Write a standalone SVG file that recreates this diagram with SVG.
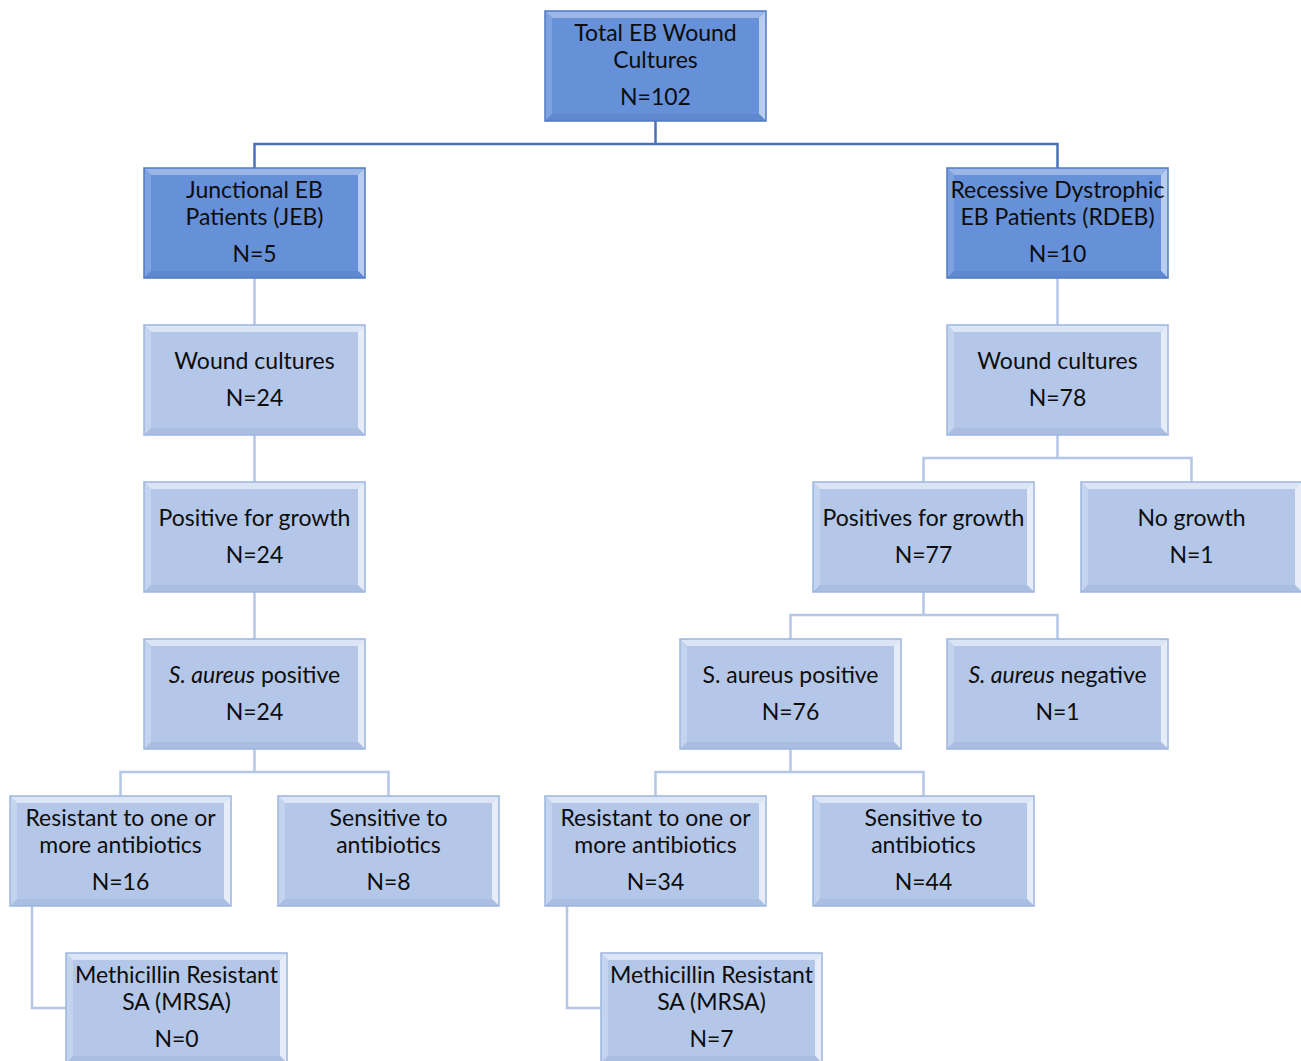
<svg xmlns="http://www.w3.org/2000/svg" xmlns:xlink="http://www.w3.org/1999/xlink" width="1301" height="1061" viewBox="0 0 1301 1061">
<style>
text{font-family:Lato,"Open Sans","Liberation Sans",sans-serif;font-size:23px;fill:#0d0d0d;text-anchor:middle}
.it{font-style:italic}
.cd{stroke:#4a72b8;stroke-width:2.5;fill:none}
.cl{stroke:#b4c7e7;stroke-width:2.5;fill:none}
.fd{fill:#6690d8}
.fl{fill:#b4c7e8}
.od{fill:none;stroke:#4f79c2;stroke-width:1.5}
.ol{fill:none;stroke:#9db5de;stroke-width:1.5}
</style>
<defs>
<g id="bd">
<rect class="fd" x="0" y="0" width="221" height="110"/>
<polygon points="0,0 221,0 214,7 7,7" fill="#9ab7e8"/>
<polygon points="0,0 7,7 7,103 0,110" fill="#7ea1df"/>
<polygon points="221,0 221,110 214,103 214,7" fill="#b9cdf0"/>
<polygon points="0,110 7,103 214,103 221,110" fill="#5f88cf"/>
<rect class="od" x="0" y="0" width="221" height="110"/>
</g>
<g id="bl">
<rect class="fl" x="0" y="0" width="221" height="110"/>
<polygon points="0,0 221,0 214,7 7,7" fill="#dbe5f5"/>
<polygon points="0,0 7,7 7,103 0,110" fill="#c4d4ee"/>
<polygon points="221,0 221,110 214,103 214,7" fill="#e6edf8"/>
<polygon points="0,110 7,103 214,103 221,110" fill="#aabee2"/>
<rect class="ol" x="0" y="0" width="221" height="110"/>
</g>
</defs>
<rect width="1301" height="1061" fill="#fff"/>
<g id="connectors">
<path class="cd" d="M655.5,121 V144 M254.5,168 V144 H1057.5 V168"/>
<path class="cl" d="M254.5,278 V325 M254.5,435 V482 M254.5,592 V639"/>
<path class="cl" d="M1057.5,278 V325"/>
<path class="cl" d="M1057.5,435 V458 M923.5,482 V458 H1191.5 V482"/>
<path class="cl" d="M923.5,592 V615 M790.5,639 V615 H1057.5 V639"/>
<path class="cl" d="M254.5,749 V772 M120.5,796 V772 H388.5 V796"/>
<path class="cl" d="M790.5,749 V772 M655.5,796 V772 H923.5 V796"/>
<path class="cl" d="M32,906 V1008 H66"/>
<path class="cl" d="M567,906 V1008 H601"/>
</g>
<g id="n-total" transform="translate(545,11)"><use href="#bd"/><text x="110.5" y="30">Total EB Wound</text><text x="110.5" y="57">Cultures</text><text x="110.5" y="94">N=102</text></g>
<g id="n-jeb" transform="translate(144,168)"><use href="#bd"/><text x="110.5" y="30">Junctional EB</text><text x="110.5" y="57">Patients (JEB)</text><text x="110.5" y="94">N=5</text></g>
<g id="n-rdeb" transform="translate(947,168)"><use href="#bd"/><text x="110.5" y="30">Recessive Dystrophic</text><text x="110.5" y="57">EB Patients (RDEB)</text><text x="110.5" y="94">N=10</text></g>
<g id="n-wound-l" transform="translate(144,325)"><use href="#bl"/><text x="110.5" y="44">Wound cultures</text><text x="110.5" y="81">N=24</text></g>
<g id="n-wound-r" transform="translate(947,325)"><use href="#bl"/><text x="110.5" y="44">Wound cultures</text><text x="110.5" y="81">N=78</text></g>
<g id="n-pos-l" transform="translate(144,482)"><use href="#bl"/><text x="110.5" y="44">Positive for growth</text><text x="110.5" y="81">N=24</text></g>
<g id="n-pos-r" transform="translate(813,482)"><use href="#bl"/><text x="110.5" y="44">Positives for growth</text><text x="110.5" y="81">N=77</text></g>
<g id="n-nogrowth" transform="translate(1081,482)"><use href="#bl"/><text x="110.5" y="44">No growth</text><text x="110.5" y="81">N=1</text></g>
<g id="n-sa-l" transform="translate(144,639)"><use href="#bl"/><text x="110.5" y="44"><tspan class="it">S. aureus</tspan> positive</text><text x="110.5" y="81">N=24</text></g>
<g id="n-sa-r" transform="translate(680,639)"><use href="#bl"/><text x="110.5" y="44">S. aureus positive</text><text x="110.5" y="81">N=76</text></g>
<g id="n-saneg" transform="translate(947,639)"><use href="#bl"/><text x="110.5" y="44"><tspan class="it">S. aureus</tspan> negative</text><text x="110.5" y="81">N=1</text></g>
<g id="n-res-l" transform="translate(10,796)"><use href="#bl"/><text x="110.5" y="30">Resistant to one or</text><text x="110.5" y="57">more antibiotics</text><text x="110.5" y="94">N=16</text></g>
<g id="n-sens-l" transform="translate(278,796)"><use href="#bl"/><text x="110.5" y="30">Sensitive to</text><text x="110.5" y="57">antibiotics</text><text x="110.5" y="94">N=8</text></g>
<g id="n-res-r" transform="translate(545,796)"><use href="#bl"/><text x="110.5" y="30">Resistant to one or</text><text x="110.5" y="57">more antibiotics</text><text x="110.5" y="94">N=34</text></g>
<g id="n-sens-r" transform="translate(813,796)"><use href="#bl"/><text x="110.5" y="30">Sensitive to</text><text x="110.5" y="57">antibiotics</text><text x="110.5" y="94">N=44</text></g>
<g id="n-mrsa-l" transform="translate(66,953)"><use href="#bl"/><text x="110.5" y="30">Methicillin Resistant</text><text x="110.5" y="57">SA (MRSA)</text><text x="110.5" y="94">N=0</text></g>
<g id="n-mrsa-r" transform="translate(601,953)"><use href="#bl"/><text x="110.5" y="30">Methicillin Resistant</text><text x="110.5" y="57">SA (MRSA)</text><text x="110.5" y="94">N=7</text></g>
</svg>
